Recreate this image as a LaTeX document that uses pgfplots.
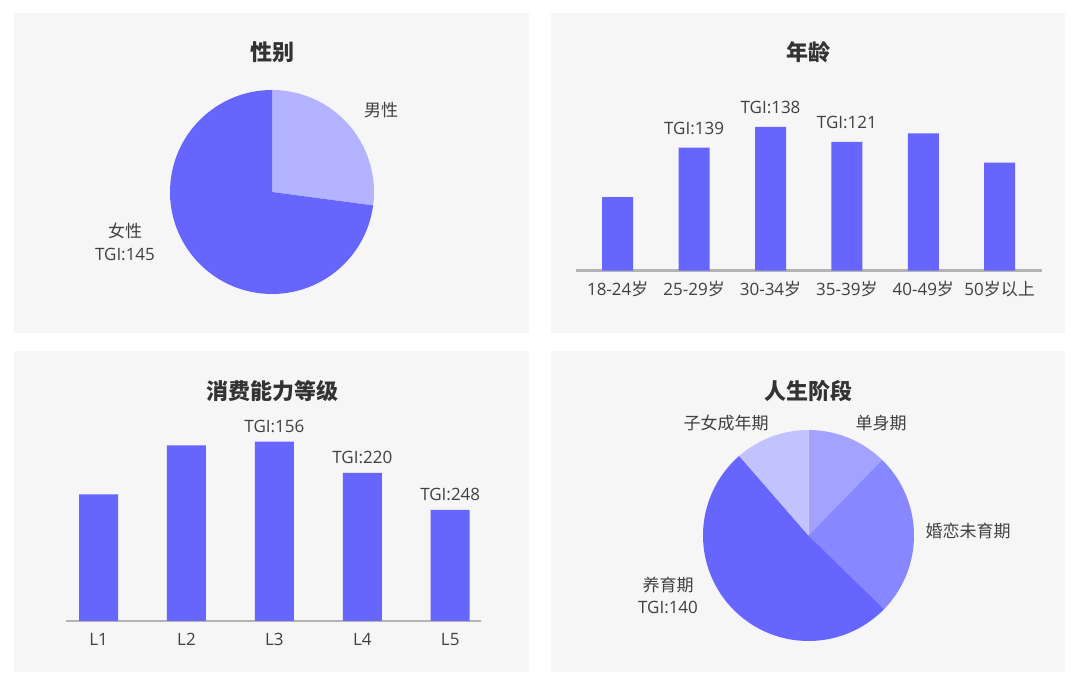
\documentclass[border=0pt]{standalone}
\usepackage{pgfplots}
\pgfplotsset{compat=1.18}
\usepackage{pgfplotstable}
\usepackage{fontspec}
\setmainfont{Open Sans}
\newfontfamily\cjk{Noto Sans CJK SC}

\definecolor{panelbg}{HTML}{F6F6F6}
\definecolor{barc}{HTML}{6666FF}
\definecolor{male}{HTML}{B3B3FF}
\definecolor{single}{HTML}{A3A3FF}
\definecolor{marry}{HTML}{8787FF}
\definecolor{child}{HTML}{C2C2FF}
\definecolor{titlec}{HTML}{333333}
\definecolor{labelc}{HTML}{404040}
\definecolor{basec}{HTML}{B4B4B4}

% age distribution (percent)
\pgfplotstableread{
x y label
0 10.3 {}
1 17.2 TGI:139
2 20.1 TGI:138
3 18.0 TGI:121
4 19.2 {}
5 15.1 {}
}\agetab

% consumption level (percent)
\pgfplotstableread{
x y label
0 17.1 {}
1 23.7 {}
2 24.2 TGI:156
3 20.0 TGI:220
4 15.0 TGI:248
}\leveltab

% start angle, percent, radius, colour
\newcommand{\pieslice}[4]{%
  \fill[#4] (axis cs:0,0) -- ++(#1:#3) arc[start angle=#1, delta angle={-3.6*#2}, radius=#3] -- cycle;}

\pgfplotsset{
  baraxis/.style={
    scale only axis, ymin=0, ymax=25,
    axis x line=bottom, axis y line=none,
    x axis line style={-, draw=basec, line width=2.5pt},
    major tick length=0pt, ytick=\empty,
    xticklabel style={font=\fontsize{17}{17}\selectfont, text=labelc, anchor=base, yshift=-24.5pt},
    clip=false,
    nodes near coords, point meta=explicit symbolic,
    every node near coord/.append style={font=\fontsize{17}{17}\selectfont, text=labelc, anchor=base},
  },
  pieaxis/.style={hide axis, scale only axis, xmin=-1, xmax=1, ymin=-1, ymax=1, clip=false, anchor=center},
}

\begin{document}
\begin{tikzpicture}[x=1pt,y=1pt]
\useasboundingbox (0,0) rectangle (1080,687);
\fill[white] (0,0) rectangle (1080,687);
\fill[panelbg] (14,354) rectangle (529,674);
\fill[panelbg] (551,354) rectangle (1065,674);
\fill[panelbg] (14,15) rectangle (529,336);
\fill[panelbg] (551,15) rectangle (1065,336);

% titles
\node[anchor=base, text=titlec, font=\cjk\bfseries\fontsize{22}{22}\selectfont] at (272,626.5) {性别};
\node[anchor=base, text=titlec, font=\cjk\bfseries\fontsize{22}{22}\selectfont] at (808,626.5) {年龄};
\node[anchor=base, text=titlec, font=\cjk\bfseries\fontsize{22}{22}\selectfont] at (272,287) {消费能力等级};
\node[anchor=base, text=titlec, font=\cjk\bfseries\fontsize{22}{22}\selectfont] at (808,287) {人生阶段};

% gender pie
\begin{axis}[pieaxis, at={(272pt,495pt)}, width=204pt, height=204pt]
\pieslice{90}{27.1}{102pt}{male}
\pieslice{-7.56}{72.9}{102pt}{barc}
\end{axis}
\node[anchor=base, text=labelc, font=\cjk\fontsize{17}{17}\selectfont] at (381,570.5) {男性};
\node[anchor=base, text=labelc, font=\cjk\fontsize{17}{17}\selectfont] at (125,449.5) {女性};
\node[anchor=base, text=labelc, font=\fontsize{17}{17}\selectfont] at (125,426) {TGI:145};

% age bars
\begin{axis}[baraxis, at={(575.7pt,416.3pt)}, anchor=south west,
  width=466pt, height=178.75pt, xmin=-0.55, xmax=5.55,
  xtick={0,1,2,3,4,5},
  xticklabels={18-24{\cjk 岁}, 25-29{\cjk 岁}, 30-34{\cjk 岁}, 35-39{\cjk 岁}, 40-49{\cjk 岁}, 50{\cjk 岁以上}},
  every node near coord/.append style={yshift=13pt}]
\addplot[ybar, fill=barc, draw=none, bar width=31pt, bar shift=0pt] table[x=x, y=y, meta=label] \agetab;
\end{axis}

% consumption bars
\begin{axis}[baraxis, at={(66pt,66pt)}, anchor=south west,
  width=415pt, height=185.25pt, xmin=-0.37, xmax=4.35,
  xtick={0,1,2,3,4},
  xticklabels={L1, L2, L3, L4, L5},
  every node near coord/.append style={yshift=9pt}]
\addplot[ybar, fill=barc, draw=none, bar width=39pt, bar shift=0pt] table[x=x, y=y, meta=label] \leveltab;
\end{axis}

% life stage pie
\begin{axis}[pieaxis, at={(808.5pt,151.5pt)}, width=211pt, height=211pt]
\pieslice{90}{12.3}{105.5pt}{single}
\pieslice{45.72}{25.0}{105.5pt}{marry}
\pieslice{-44.28}{51.3}{105.5pt}{barc}
\pieslice{-228.96}{11.4}{105.5pt}{child}
\end{axis}
\node[anchor=base, text=labelc, font=\cjk\fontsize{17}{17}\selectfont] at (726,257.5) {子女成年期};
\node[anchor=base, text=labelc, font=\cjk\fontsize{17}{17}\selectfont] at (881,257.5) {单身期};
\node[anchor=base, text=labelc, font=\cjk\fontsize{17}{17}\selectfont] at (968,149.5) {婚恋未育期};
\node[anchor=base, text=labelc, font=\cjk\fontsize{17}{17}\selectfont] at (668,95.5) {养育期};
\node[anchor=base, text=labelc, font=\fontsize{17}{17}\selectfont] at (668,73.5) {TGI:140};
\end{tikzpicture}
\end{document}
